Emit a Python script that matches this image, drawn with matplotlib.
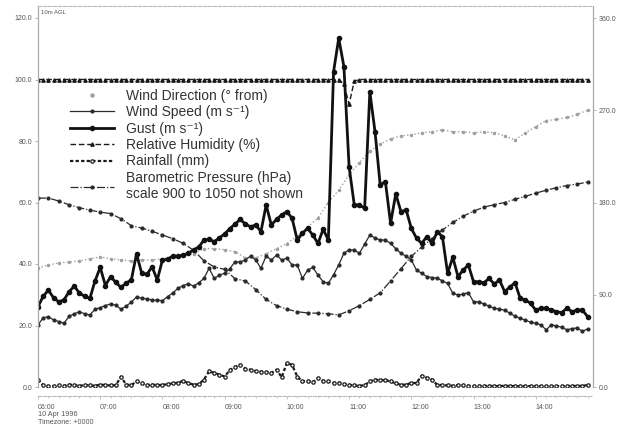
import numpy as np
import matplotlib
matplotlib.use("Agg")
import matplotlib.pyplot as plt
from matplotlib.lines import Line2D
from matplotlib.ticker import FormatStrFormatter, FixedLocator

plt.rcParams["font.family"] = ["Liberation Sans", "DejaVu Sans"]

# 5-minute samples from 06:00 to 14:50
t5 = 6 + np.arange(107) * 5 / 60.0
# 10-minute samples from 06:00 to 14:50
t10 = 6 + np.arange(54) * 10 / 60.0

gust = [26.1, 29.5, 31.5, 29.0, 27.7, 28.3, 31.0, 32.8, 30.5, 29.5, 28.8, 34.5,
        38.9, 33.0, 35.9, 34.0, 32.4, 33.8, 34.8, 43.3, 37.0, 36.6, 39.1, 34.8,
        41.3, 41.5, 42.6, 42.5, 42.9, 43.5, 44.6, 45.5, 47.8, 48.0, 47.3, 48.5,
        49.8, 51.5, 53.0, 54.5, 53.0, 52.1, 52.7, 50.5, 59.2, 52.7, 54.5, 56.0,
        57.0, 54.9, 47.8, 50.0, 51.6, 49.4, 46.7, 51.3, 47.8, 102.5, 113.4, 104.2,
        71.6, 59.2, 59.2, 58.1, 96.0, 83.0, 65.7, 66.8, 53.2, 62.8, 57.0, 57.6,
        51.6, 48.4, 46.7, 48.9, 46.7, 50.5, 48.9, 37.0, 42.2, 35.9, 38.0, 39.7,
        34.2, 34.2, 33.9, 35.3, 33.5, 34.8, 31.0, 32.5, 33.9, 28.8, 28.3, 27.2,
        25.0, 25.6, 25.6, 25.0, 24.5, 24.2, 25.6, 24.5, 25.0, 25.0, 22.9]

speed = [20.2, 22.5, 22.9, 21.8, 21.3, 20.7, 23.0, 23.8, 24.5, 23.8, 23.4, 25.3,
         25.8, 26.5, 27.0, 26.6, 25.3, 26.3, 27.6, 29.3, 28.9, 28.6, 28.3, 28.2,
         28.1, 29.4, 30.6, 32.1, 33.0, 33.6, 32.8, 33.9, 35.3, 38.6, 35.3, 36.4,
         37.0, 38.5, 40.7, 40.7, 41.3, 42.6, 41.3, 38.6, 42.6, 41.3, 42.9, 41.3,
         41.9, 39.7, 39.7, 35.3, 38.0, 38.9, 36.4, 34.2, 33.7, 36.5, 39.7, 43.5,
         44.6, 44.5, 43.5, 46.5, 49.4, 48.5, 47.8, 47.8, 46.7, 45.0, 43.5, 42.5,
         41.3, 38.0, 37.0, 35.9, 35.6, 35.4, 34.5, 33.7, 30.5, 29.9, 30.2, 30.7,
         27.7, 27.7, 27.0, 26.3, 25.6, 25.3, 25.0, 24.0, 23.0, 22.3, 21.8, 21.0,
         20.7, 20.2, 18.6, 20.2, 19.9, 19.4, 18.6, 19.0, 19.2, 18.1, 18.9]

humidity = [100, 100, 100, 100, 100, 100, 100, 100, 100, 100, 100, 100,
            100, 100, 100, 100, 100, 100, 100, 100, 100, 100, 100, 100,
            100, 100, 100, 100, 100, 100, 100, 100, 100, 100, 100, 100,
            100, 100, 100, 100, 100, 100, 100, 100, 100, 100, 100, 100,
            100, 100, 100, 100, 100, 100, 100, 100, 100, 100, 100, 98.5,
            92, 99.5, 100, 100, 100, 100, 100, 100, 100, 100, 100, 100,
            100, 100, 100, 100, 100, 100, 100, 100, 100, 100, 100, 100,
            100, 100, 100, 100, 100, 100, 100, 100, 100, 100, 100, 100,
            100, 100, 100, 100, 100, 100, 100, 100, 100, 100, 100]

rain = [2.4, 0.6, 0.3, 0.3, 0.5, 0.4, 0.8, 0.6, 0.4, 0.6, 0.5, 0.4,
        0.8, 0.6, 0.5, 0.6, 3.3, 0.8, 0.6, 1.8, 1.2, 0.6, 0.8, 0.6,
        0.7, 0.9, 1.2, 1.4, 2.0, 1.2, 0.8, 0.9, 2.4, 5.1, 4.6, 4.0,
        3.4, 5.5, 6.5, 7.3, 5.9, 5.6, 5.1, 5.0, 4.8, 4.6, 5.6, 3.2,
        7.8, 7.2, 3.4, 1.8, 2.0, 1.5, 2.9, 2.0, 1.8, 1.3, 1.4, 1.0,
        0.7, 0.5, 0.4, 0.6, 1.8, 2.4, 2.2, 2.3, 1.8, 1.2, 0.7, 0.8,
        1.3, 1.3, 3.7, 3.0, 2.4, 0.7, 0.6, 0.5, 0.4, 0.6, 0.5, 0.4,
        0.3, 0.4, 0.3, 0.4, 0.3, 0.3, 0.4, 0.3, 0.3, 0.2, 0.3, 0.3,
        0.2, 0.3, 0.3, 0.2, 0.3, 0.3, 0.3, 0.4, 0.3, 0.4, 0.6]

direction = [116, 119, 121, 122, 123, 125, 127, 125, 124, 123, 124, 124,
             125, 127, 129, 130, 135, 135, 134, 132, 126, 126, 130, 135,
             140, 147, 156, 165, 180, 192, 207, 219, 230, 237, 242, 245,
             246, 248, 249, 251, 249, 249, 248, 249, 248, 245, 241, 248,
             254, 260, 261, 263, 266, 270]

pressure = [976.8, 976.8, 975.6, 974.1, 972.9, 971.9, 971.1, 970.5, 968.4,
            965.6, 964.6, 963.3, 961.8, 960.3, 958.4, 955.6, 951.3, 948.8,
            947.8, 944.0, 943.1, 939.6, 935.6, 933.1, 931.6, 930.6, 930.1,
            930.0, 929.8, 929.3, 931.0, 933.1, 935.6, 938.3, 943.1, 948.1,
            953.1, 956.9, 960.3, 963.8, 966.9, 969.4, 971.5, 973.1, 974.1,
            975.0, 976.3, 977.5, 978.8, 980.0, 981.0, 981.9, 982.5, 983.3]

hour_labels = ["06:00", "07:00", "08:00", "09:00", "10:00",
               "11:00", "12:00", "13:00", "14:00"]
left_ticks = [0, 20, 40, 60, 80, 100, 120]
right_ticks = [0, 90, 180, 270, 360]

# pressure drawn on the left scale: 900..1050 hPa -> 0..120
press_scaled = (np.array(pressure) - 900.0) * 120.0 / 150.0

W, H = 625, 432
fig = plt.figure(figsize=(W / 100, H / 100), dpi=100)
ax = fig.add_axes([38 / W, (H - 387) / H, (593 - 38) / W, (387 - 6) / H])
ax2 = ax.twinx()

ytop = (387 - 6) / 3.075
ax.set_ylim(0, ytop)
ax2.set_ylim(0, ytop * 3)
ax.set_xlim(6.0, 14.92)

dark = "#1a1a1a"
grey_txt = "#555555"
dir_col = "#a0a0a0"

ax2.plot(t10, direction, linestyle=":", lw=1.0, color=dir_col,
         marker="o", ms=1.5, mec=dir_col, mfc=dir_col)
h_rain, = ax.plot(t5, rain, linestyle=(0, (1.5, 1)), lw=1.6, color=dark,
                  marker="o", ms=2.4, mfc="white", mec=dark, mew=0.9,
                  label="Rainfall (mm)")
h_pres, = ax.plot(t10, press_scaled, linestyle="-.", lw=0.9, color="#2a2a2a",
                  marker="o", ms=2.0,
                  label="Barometric Pressure (hPa)\nscale 900 to 1050 not shown")
h_rh, = ax.plot(t5, humidity, linestyle=(0, (4, 2)), lw=1.0, color=dark,
                marker="^", ms=2.4, label="Relative Humidity (%)")
h_spd, = ax.plot(t5, speed, linestyle="-", lw=0.9, color="#2a2a2a",
                 marker="o", ms=2.0, label="Wind Speed (m s\u207b\u00b9)")
h_gust, = ax.plot(t5, gust, linestyle="-", lw=2.0, color="#111111",
                  marker="o", ms=3.0, label="Gust (m s\u207b\u00b9)")
ax2.set_zorder(ax.get_zorder() - 1)
ax.patch.set_visible(False)

# legend key for the direction series: a single dot
h_dir = Line2D([], [], linestyle="none", marker="o", ms=2.2, color=dir_col,
               label="Wind Direction (\u00b0 from)")

# spines
for a in (ax, ax2):
    for s in a.spines.values():
        s.set_visible(False)
ax.spines["left"].set_visible(True)
ax.spines["left"].set_color("#aaaaaa")
ax.spines["left"].set_linewidth(0.9)
ax2.spines["right"].set_visible(True)
ax2.spines["right"].set_color("#aaaaaa")
ax2.spines["right"].set_linewidth(0.9)
ax.spines["top"].set_visible(True)
ax.spines["top"].set_color("#bbbbbb")
ax.spines["top"].set_linestyle((0, (3, 1.5)))
ax.spines["top"].set_linewidth(0.8)
ax.spines["bottom"].set_visible(True)
ax.spines["bottom"].set_position(("outward", 6.5))
ax.spines["bottom"].set_color("#bbbbbb")
ax.spines["bottom"].set_linestyle((0, (3, 1.5)))
ax.spines["bottom"].set_linewidth(0.8)

# y ticks
ax.yaxis.set_major_locator(FixedLocator(left_ticks))
ax.yaxis.set_major_formatter(FormatStrFormatter("%.1f"))
ax.tick_params(axis="y", length=2, width=0.6, color="#aaaaaa", pad=2,
               labelsize=5, labelcolor=grey_txt)
ax2.yaxis.set_major_locator(FixedLocator(right_ticks))
ax2.yaxis.set_major_formatter(FormatStrFormatter("%.1f"))
ax2.tick_params(axis="y", length=2, width=0.6, color="#aaaaaa", pad=2,
                labelsize=5, labelcolor=grey_txt)

# x ticks
ax.set_xticks(np.arange(6, 15))
ax.set_xticklabels(hour_labels)
ax.set_xticks(6 + np.arange(54) * 10 / 60.0, minor=True)
ax.tick_params(axis="x", which="major", length=2.5, width=0.6, color="#bbbbbb",
               pad=3, labelsize=5, labelcolor=grey_txt)
ax.tick_params(axis="x", which="minor", length=1.5, width=0.5, color="#bbbbbb")
for lab in ax.get_xticklabels():
    lab.set_horizontalalignment("left")

fig.text(41 / W, 1 - 13 / H, "10m AGL", fontsize=4.3, color=grey_txt, va="center")
fig.text(38 / W, 1 - 415 / H, "10 Apr 1996", fontsize=5.2, color=grey_txt, va="center")
fig.text(38 / W, 1 - 423 / H, "Timezone: +0000", fontsize=5.2, color=grey_txt, va="center")

handles = [h_dir, h_spd, h_gust, h_rh, h_rain, h_pres]
leg = ax.legend(handles=handles, loc="upper left",
                bbox_to_anchor=(70 / W, 1 - 89 / H), bbox_transform=fig.transFigure,
                frameon=False, fontsize=10, handlelength=3.2, handletextpad=0.8,
                labelspacing=0.17, borderpad=0, borderaxespad=0, numpoints=1)
for txt in leg.get_texts():
    txt.set_color("#333333")

fig.savefig("out.png", dpi=100)
